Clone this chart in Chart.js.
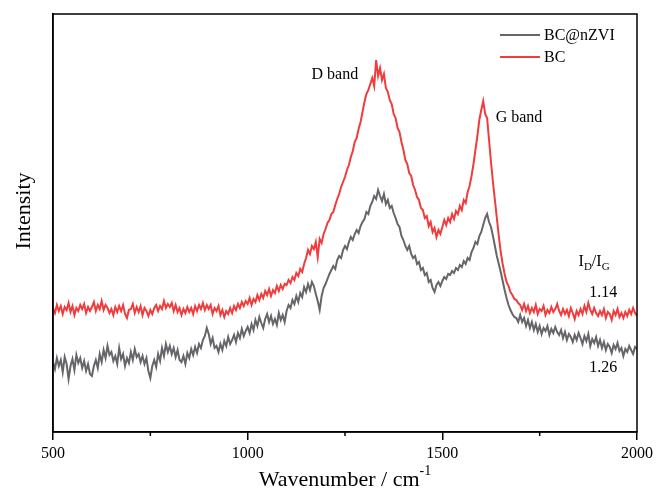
<!DOCTYPE html>
<html>
<head>
<meta charset="utf-8">
<script src="https://cdn.jsdelivr.net/npm/chart.js@4.4.1/dist/chart.umd.min.js"></script>
<style>
  html, body { margin: 0; padding: 0; background: #fff; }
  #wrap { width: 657px; height: 490px; }
</style>
</head>
<body>
<div id="wrap"><canvas id="ramanChart" width="657" height="490"></canvas></div>
<script>
// wavenumber (cm-1), every 5 cm-1
var wavenumbers = [
  500,505,510,515,520,525,530,535,540,545,550,555,560,565,570,575,580,585,590,595,
  600,605,610,615,620,625,630,635,640,645,650,655,660,665,670,675,680,685,690,695,
  700,705,710,715,720,725,730,735,740,745,750,755,760,765,770,775,780,785,790,795,
  800,805,810,815,820,825,830,835,840,845,850,855,860,865,870,875,880,885,890,895,
  900,905,910,915,920,925,930,935,940,945,950,955,960,965,970,975,980,985,990,995,
  1000,1005,1010,1015,1020,1025,1030,1035,1040,1045,1050,1055,1060,1065,1070,1075,1080,1085,1090,1095,
  1100,1105,1110,1115,1120,1125,1130,1135,1140,1145,1150,1155,1160,1165,1170,1175,1180,1185,1190,1195,
  1200,1205,1210,1215,1220,1225,1230,1235,1240,1245,1250,1255,1260,1265,1270,1275,1280,1285,1290,1295,
  1300,1305,1310,1315,1320,1325,1330,1335,1340,1345,1350,1355,1360,1365,1370,1375,1380,1385,1390,1395,
  1400,1405,1410,1415,1420,1425,1430,1435,1440,1445,1450,1455,1460,1465,1470,1475,1480,1485,1490,1495,
  1500,1505,1510,1515,1520,1525,1530,1535,1540,1545,1550,1555,1560,1565,1570,1575,1580,1585,1590,1595,
  1600,1605,1610,1615,1620,1625,1630,1635,1640,1645,1650,1655,1660,1665,1670,1675,1680,1685,1690,1695,
  1700,1705,1710,1715,1720,1725,1730,1735,1740,1745,1750,1755,1760,1765,1770,1775,1780,1785,1790,1795,
  1800,1805,1810,1815,1820,1825,1830,1835,1840,1845,1850,1855,1860,1865,1870,1875,1880,1885,1890,1895,
  1900,1905,1910,1915,1920,1925,1930,1935,1940,1945,1950,1955,1960,1965,1970,1975,1980,1985,1990,1995,
  2000
];

// intensity (a.u.)
var bcValues = [
  124,119,127,121,126,118,125,122,129,120,126,117,124,121,127,123,128,119,125,121,
  125,130,121,127,123,131,122,127,124,119,123,117,125,120,126,121,127,118,114,122,
  123,128,119,125,120,126,117,124,121,116,122,118,124,127,121,126,123,131,124,128,
  125,129,121,127,120,124,117,123,119,125,120,124,118,126,121,127,123,129,122,127,
  123,127,118,124,121,126,117,122,115,121,118,124,119,126,122,128,124,130,126,131,
  128,134,127,133,130,137,132,138,134,141,137,143,136,142,139,146,141,147,143,148,
  147,152,149,155,152,159,156,163,160,168,174,182,178,186,183,190,175,193,189,198,
  203,209,212,218,220,227,233,238,245,250,255,262,267,275,281,290,294,303,310,320,
  330,338,342,348,354,346,372,356,364,352,358,344,340,332,328,318,314,304,300,290,
  282,272,268,259,256,247,242,235,232,224,222,214,216,206,210,200,204,195,202,198,
  205,212,207,214,210,218,213,221,218,226,222,232,229,240,246,256,268,282,296,312,
  322,331,318,314,292,270,250,232,214,196,180,168,158,150,146,140,137,133,132,129,
  127,122,128,121,126,119,124,120,127,118,123,121,126,117,122,119,125,120,123,128,
  121,117,123,118,122,116,124,119,113,121,117,123,118,126,120,129,122,118,124,119,
  116,121,117,123,114,120,118,112,121,117,123,115,119,114,120,116,122,118,124,119,
  116
];

var bcNzviValues = [
  70,63,74,66,72,60,75,68,53,66,73,62,77,69,74,64,71,61,68,58,
  56,66,72,64,78,70,82,74,86,77,80,71,76,68,84,73,78,66,74,69,
  80,72,83,75,78,70,76,68,74,61,54,66,72,65,78,71,84,76,88,80,
  86,78,84,75,82,72,70,76,68,79,74,83,77,85,79,88,84,92,96,104,
  98,88,94,84,86,80,88,82,91,86,95,88,92,97,90,99,94,103,96,101,
  105,99,108,102,112,106,115,109,104,113,118,110,116,108,113,107,119,112,117,110,
  121,127,124,132,128,136,130,139,135,145,140,148,142,150,146,138,131,122,136,144,
  148,153,158,162,166,163,172,176,174,182,186,183,190,195,192,198,202,199,206,210,
  213,220,218,226,230,236,233,242,236,231,238,228,232,224,226,219,214,208,205,196,
  192,186,182,186,178,174,176,168,170,162,164,157,159,150,152,144,140,147,150,146,
  151,155,153,158,157,161,159,164,162,167,165,171,168,174,172,180,184,190,188,196,
  200,207,214,218,210,205,196,186,176,168,160,151,142,134,127,122,118,115,114,110,
  117,110,114,106,112,104,110,102,108,100,106,98,104,101,106,97,103,99,105,100,
  97,102,94,100,92,98,95,90,97,92,99,94,88,96,91,98,86,93,89,95,
  86,92,84,90,82,88,85,79,87,83,89,81,84,76,83,80,86,82,78,85,
  83
];

var seriesNames = ["BC@nZVI", "BC"];
var seriesColors = ["rgb(102,102,106)", "rgb(240,60,60)"];
var xTickLabels = [500, 1000, 1500, 2000];
var ratioLabels = ["1.14", "1.26"];

var serif = "'Liberation Serif', 'Times New Roman', serif";

function toPoints(ys) {
  return ys.map(function (y, i) { return { x: wavenumbers[i], y: y }; });
}

var decorations = {
  id: 'decorations',
  afterDraw: function (chart) {
    var ctx = chart.ctx;
    var area = chart.chartArea;
    var xs = chart.scales.x;
    var ys = chart.scales.y;
    ctx.save();

    // frame
    ctx.strokeStyle = '#000';
    ctx.lineWidth = 1.5;
    ctx.strokeRect(area.left, area.top, area.right - area.left, area.bottom - area.top);

    // minor ticks
    [750, 1250, 1750].forEach(function (v) {
      var px = xs.getPixelForValue(v);
      ctx.beginPath();
      ctx.moveTo(px, area.bottom);
      ctx.lineTo(px, area.bottom + 4);
      ctx.stroke();
    });

    // legend
    ctx.font = "16px " + serif;
    ctx.textBaseline = 'middle';
    ctx.textAlign = 'left';
    seriesNames.forEach(function (name, i) {
      var y = area.top + 21 + i * 22;
      ctx.strokeStyle = seriesColors[i];
      ctx.lineWidth = 2;
      ctx.beginPath();
      ctx.moveTo(500, y);
      ctx.lineTo(540, y);
      ctx.stroke();
      ctx.fillStyle = '#000';
      ctx.fillText(name, 544, y + 1);
    });

    // band labels
    ctx.fillStyle = '#000';
    ctx.textAlign = 'center';
    ctx.fillText("D band", xs.getPixelForValue(1224), ys.getPixelForValue(357));
    ctx.textAlign = 'left';
    ctx.fillText("G band", xs.getPixelForValue(1637), ys.getPixelForValue(314));

    // I_D / I_G
    var lx = xs.getPixelForValue(1850);
    var ly = ys.getPixelForValue(170);
    ctx.font = "16px " + serif;
    ctx.fillText("I", lx, ly);
    var w = ctx.measureText("I").width;
    ctx.font = "11px " + serif;
    ctx.fillText("D", lx + w, ly + 5);
    w += ctx.measureText("D").width;
    ctx.font = "16px " + serif;
    ctx.fillText("/I", lx + w, ly);
    w += ctx.measureText("/I").width;
    ctx.font = "11px " + serif;
    ctx.fillText("G", lx + w, ly + 5);

    ctx.font = "16px " + serif;
    ctx.textAlign = 'center';
    ctx.fillText(ratioLabels[0], xs.getPixelForValue(1913), ys.getPixelForValue(139));
    ctx.fillText(ratioLabels[1], xs.getPixelForValue(1913), ys.getPixelForValue(64));

    // x axis title with superscript
    ctx.font = "22px " + serif;
    ctx.textAlign = 'left';
    ctx.textBaseline = 'alphabetic';
    var main = "Wavenumber / cm";
    var sup = "-1";
    var mw = ctx.measureText(main).width;
    ctx.font = "14px " + serif;
    var sw = ctx.measureText(sup).width;
    var cx = (area.left + area.right) / 2;
    var tx = cx - (mw + sw) / 2;
    ctx.font = "22px " + serif;
    ctx.fillText(main, tx, 486);
    ctx.font = "14px " + serif;
    ctx.fillText(sup, tx + mw, 475);

    // y axis title
    ctx.font = "22px " + serif;
    ctx.textAlign = 'center';
    ctx.textBaseline = 'middle';
    ctx.translate(24, 211);
    ctx.rotate(-Math.PI / 2);
    ctx.fillText("Intensity", 0, 0);
    ctx.restore();
  }
};

new Chart(document.getElementById('ramanChart'), {
  type: 'line',
  data: {
    datasets: [
      {
        label: seriesNames[0],
        data: toPoints(bcNzviValues),
        borderColor: seriesColors[0],
        borderWidth: 2,
        pointRadius: 0,
        tension: 0
      },
      {
        label: seriesNames[1],
        data: toPoints(bcValues),
        borderColor: seriesColors[1],
        borderWidth: 2,
        pointRadius: 0,
        tension: 0
      }
    ]
  },
  options: {
    responsive: false,
    animation: false,
    layout: { padding: { top: 14, right: 20, left: 0, bottom: 0 } },
    plugins: { legend: { display: false }, tooltip: { enabled: false } },
    scales: {
      x: {
        type: 'linear',
        min: 500,
        max: 2000,
        afterFit: function (s) { s.height = 58; },
        border: { display: true, color: '#000', width: 1.5 },
        grid: {
          drawOnChartArea: false,
          tickLength: 8,
          lineWidth: 1.5,
          tickColor: '#000'
        },
        afterBuildTicks: function (s) {
          s.ticks = xTickLabels.map(function (v) { return { value: v }; });
        },
        ticks: {
          color: '#000',
          padding: 4,
          maxRotation: 0,
          font: { family: serif, size: 16 },
          callback: function (v) { return String(v); }
        }
      },
      y: {
        min: 0,
        max: 418,
        afterFit: function (s) { s.width = 53; },
        border: { display: true, color: '#000', width: 1.5 },
        grid: { display: false },
        ticks: { display: false }
      }
    }
  },
  plugins: [decorations]
});
</script>
</body>
</html>
